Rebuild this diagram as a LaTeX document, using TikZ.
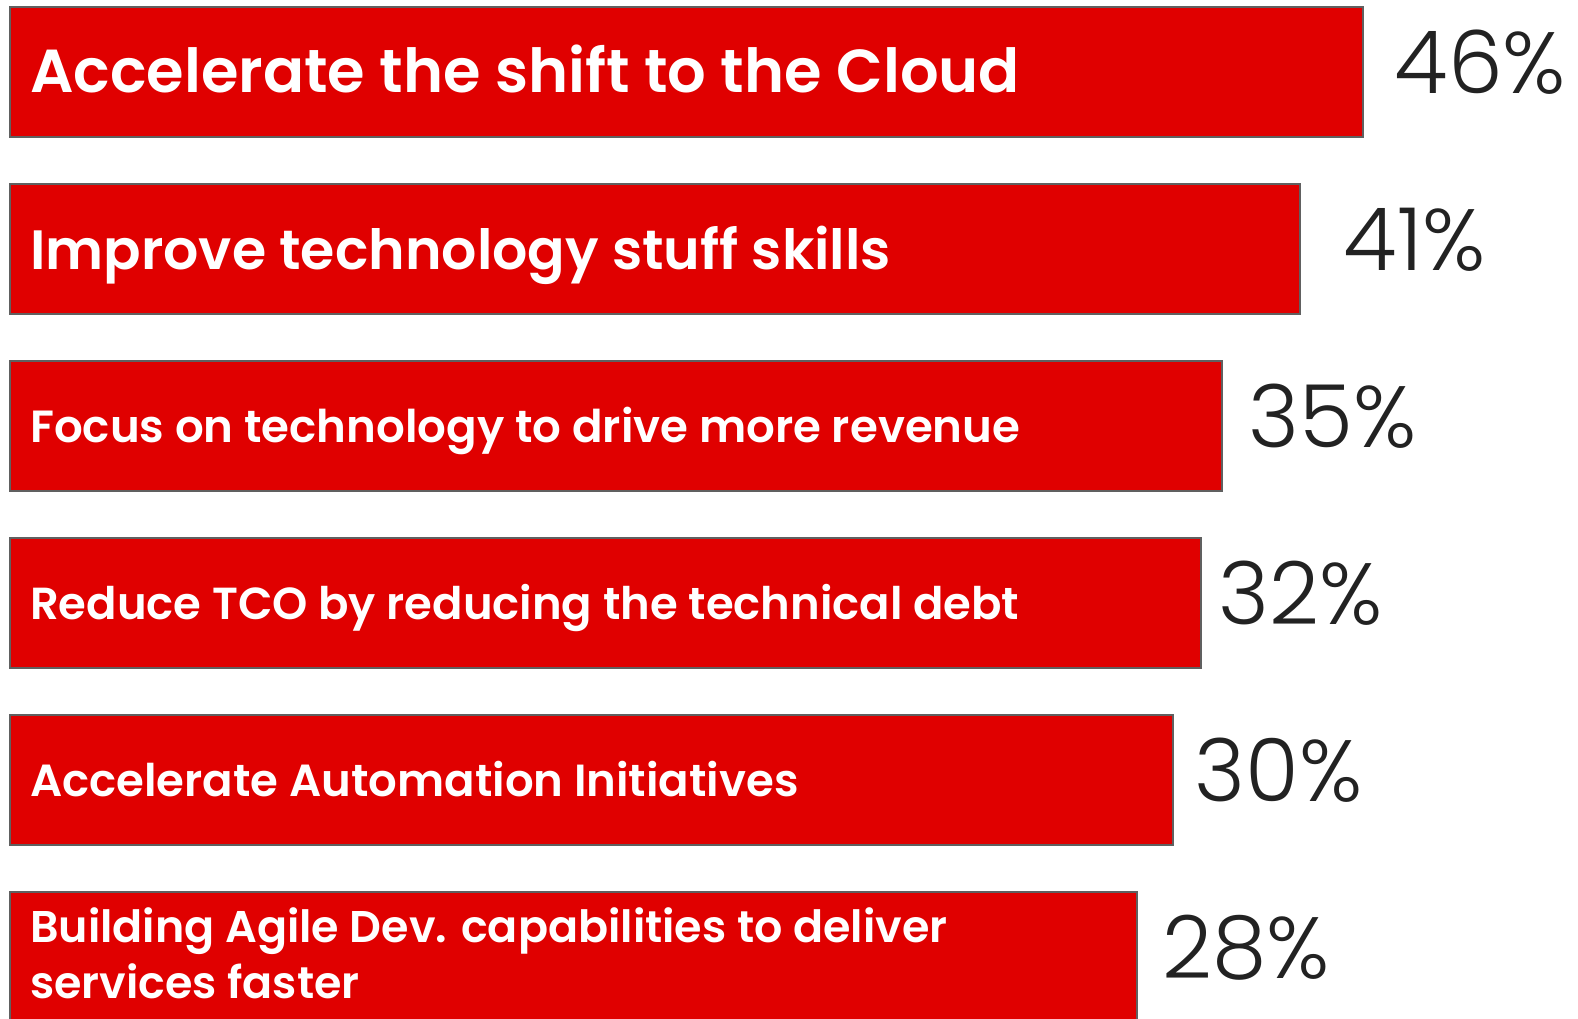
\documentclass[tikz,border=0pt]{standalone}
\usepackage{fontspec}
\usepackage{xcolor}
\usetikzlibrary{calc}
\newfontfamily\labelfont{Poppins SemiBold}
\newfontfamily\pctfont{Poppins Light}
\definecolor{barred}{RGB}{224,0,0}
\definecolor{barline}{RGB}{96,96,96}
\definecolor{pctgrey}{RGB}{34,34,34}

\begin{document}
\begin{tikzpicture}[x=1pt,y=-1pt]%% priorities chart
                \tikzstyle{bar}  = [rectangle, draw=barline, fill=barred, line width=1.5pt, inner sep=0pt, minimum height=130pt, anchor=north west]
                \tikzstyle{lbl}  = [anchor=base west, inner sep=0pt, text=white, align=left]
                \tikzstyle{pct}  = [anchor=base west, inner sep=0pt, text=pctgrey, font=\pctfont\fontsize{87}{87}\selectfont]
                \useasboundingbox (0,0) rectangle (1578,1018);

                \foreach \i/\w/\d/\v in {1/1353/31/46, 2/1290/43/41, 3/1212/26/35, 4/1191/17/32, 5/1163/21/30, 6/1127/25/28}{
                        \node [bar, minimum width=\w pt](b\i) at (9,{6+177*(\i-1)}) {};
                        \node [pct](p\i) at ($(b\i.north east)+(\d,87)$) {\v\%};
                }
                \node [lbl, font=\labelfont\fontsize{60.7}{60.7}\selectfont](l1) at ($(b1.north west)+(21,86)$) {Accelerate the shift to the Cloud};
                \node [lbl, font=\labelfont\fontsize{55.4}{55.4}\selectfont](l2) at ($(b2.north west)+(21,86)$) {Improve technology stuff skills};
                \node [lbl, font=\labelfont\fontsize{45.1}{45.1}\selectfont](l3) at ($(b3.north west)+(21,82)$) {Focus on technology to drive more revenue};
                \node [lbl, font=\labelfont\fontsize{44.9}{44.9}\selectfont](l4) at ($(b4.north west)+(21,82)$) {Reduce TCO by reducing the technical debt};
                \node [lbl, font=\labelfont\fontsize{45}{45}\selectfont](l5) at ($(b5.north west)+(21,82)$) {Accelerate Automation Initiatives};
                \node [lbl, font=\labelfont\fontsize{44.4}{56}\selectfont](l6) at ($(b6.north west)+(21,107)$) {Building Agile Dev. capabilities to deliver\\services faster};
\end{tikzpicture}
\end{document}
